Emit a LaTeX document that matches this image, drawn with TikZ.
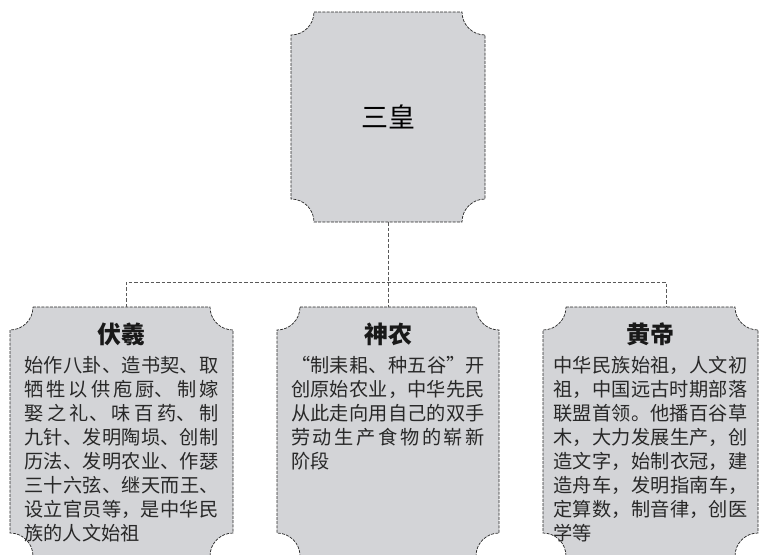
\documentclass[tikz,border=0pt]{standalone}
\usepackage{fontspec}
\setmainfont{Noto Sans CJK SC}[CharacterWidth=Full]
\usetikzlibrary{positioning}
\XeTeXlinebreaklocale "zh"
\XeTeXlinebreakskip=0pt plus 5pt
\definecolor{boxgray}{RGB}{211,212,215}
\definecolor{inkgray}{RGB}{40,40,40}
\newcommand{\notchbox}[2]{%
  \filldraw[boxline] ([xshift=#2]#1.north west) -- ([xshift=-#2]#1.north east)
    arc[start angle=180,end angle=270,radius=#2]
    -- ([yshift=#2]#1.south east)
    arc[start angle=90,end angle=180,radius=#2]
    -- ([xshift=#2]#1.south west)
    arc[start angle=0,end angle=90,radius=#2]
    -- ([yshift=-#2]#1.north west)
    arc[start angle=270,end angle=360,radius=#2] -- cycle;}
\begin{document}
\begin{tikzpicture}[x=1pt,y=1pt]
\tikzstyle{frame}=[inner sep=0,outer sep=0]
\tikzstyle{boxline}=[fill=boxgray,draw=inkgray,line width=0.7pt,dash pattern=on 3pt off 1.2pt]
\tikzstyle{link}=[draw=black!65,line width=0.7pt,dash pattern=on 3.5pt off 2pt]
\tikzstyle{headtext}=[inner sep=0,text=black!90,font={\fontsize{24}{28}\selectfont\bfseries}]
\tikzstyle{bodytext}=[inner sep=0,text width=194pt,align=justify,text=inkgray,font={\fontsize{19.2}{24}\selectfont\tolerance=9999}]
\clip (0,0) rectangle (760,-554);
\node[frame,minimum width=194pt,minimum height=210pt] (sanhuang) at (388,-117) {};
\node[frame,minimum width=223pt,minimum height=249pt] (fuxi) at (121.5,-431.5) {};
\node[frame,minimum width=222pt,minimum height=249pt] (shennong) at (388,-431.5) {};
\node[frame,minimum width=215pt,minimum height=249pt] (huangdi) at (650.5,-431.5) {};
\notchbox{sanhuang}{23pt}
\notchbox{fuxi}{23pt}
\notchbox{shennong}{23pt}
\notchbox{huangdi}{23pt}
\node[inner sep=0,font={\fontsize{27}{30}\selectfont}] at (sanhuang) {三皇};
\node[headtext,below=16pt of fuxi.north] (fuxiT) {伏羲};
\node[headtext,below=16pt of shennong.north] (shennongT) {神农};
\node[headtext,below=16pt of huangdi.north] (huangdiT) {黄帝};
\node[bodytext,below=49pt of fuxi.north] (fuxiB) {始作八卦、造书契、取\linebreak
牺牲以供庖厨、制嫁\linebreak
娶之礼、味百药、制\linebreak
九针、发明陶埙、创制\linebreak
历法、发明农业、作瑟\linebreak
三十六弦、继天而王、\linebreak
设立官员等，是中华民\linebreak
族的人文始祖};
\node[bodytext,below=49pt of shennong.north] (shennongB) {“制耒耜、种五谷”开\linebreak
创原始农业，中华先民\linebreak
从此走向用自己的双手\linebreak
劳动生产食物的崭新\linebreak
阶段};
\node[bodytext,below=49pt of huangdi.north] (huangdiB) {中华民族始祖，人文初\linebreak
祖，中国远古时期部落\linebreak
联盟首领。他播百谷草\linebreak
木，大力发展生产，创\linebreak
造文字，始制衣冠，建\linebreak
造舟车，发明指南车，\linebreak
定算数，制音律，创医\linebreak
学等};
\draw[link] (sanhuang.south) -- (shennong.north);
\draw[link] ([xshift=4.5pt]fuxi.north) -- ++(0,25) -| ([xshift=15.5pt]huangdi.north);
\end{tikzpicture}
\end{document}
